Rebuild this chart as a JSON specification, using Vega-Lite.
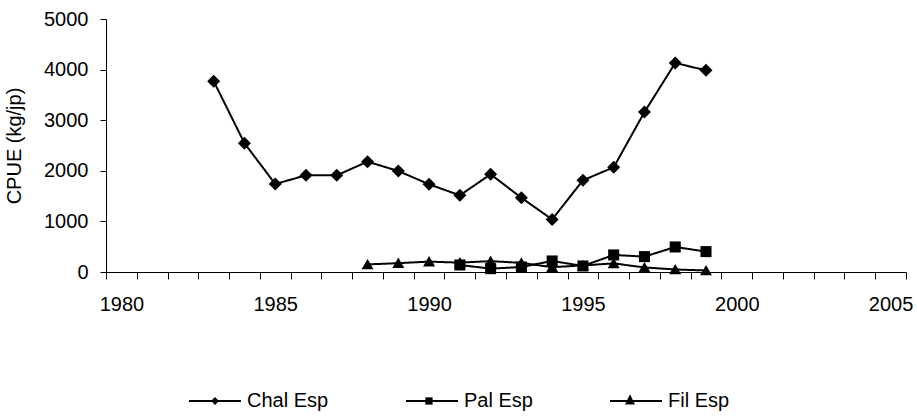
{
  "$schema": "https://vega.github.io/schema/vega-lite/v6.json",
  "width": 800,
  "height": 253,
  "autosize": "none",
  "padding": {"left": 106, "top": 19, "right": 11, "bottom": 144},
  "background": "white",
  "config": {
    "font": "Liberation Sans",
    "view": {"stroke": null},
    "axis": {"labelFont": "Liberation Sans", "titleFont": "Liberation Sans", "labelColor": "#000", "titleColor": "#000", "domainColor": "#000", "tickColor": "#000", "grid": false, "labelFontSize": 20, "titleFontSize": 20, "titleFontWeight": "normal"}
  },
  "data": {
    "values": [
      {"Year": 1983, "Series": "Chal Esp", "CPUE": 3770},
      {"Year": 1984, "Series": "Chal Esp", "CPUE": 2546},
      {"Year": 1985, "Series": "Chal Esp", "CPUE": 1739},
      {"Year": 1986, "Series": "Chal Esp", "CPUE": 1911},
      {"Year": 1987, "Series": "Chal Esp", "CPUE": 1911},
      {"Year": 1988, "Series": "Chal Esp", "CPUE": 2181},
      {"Year": 1989, "Series": "Chal Esp", "CPUE": 1996},
      {"Year": 1990, "Series": "Chal Esp", "CPUE": 1733},
      {"Year": 1991, "Series": "Chal Esp", "CPUE": 1515},
      {"Year": 1992, "Series": "Chal Esp", "CPUE": 1931},
      {"Year": 1993, "Series": "Chal Esp", "CPUE": 1467},
      {"Year": 1994, "Series": "Chal Esp", "CPUE": 1039},
      {"Year": 1995, "Series": "Chal Esp", "CPUE": 1812},
      {"Year": 1996, "Series": "Chal Esp", "CPUE": 2070},
      {"Year": 1997, "Series": "Chal Esp", "CPUE": 3160},
      {"Year": 1998, "Series": "Chal Esp", "CPUE": 4131},
      {"Year": 1999, "Series": "Chal Esp", "CPUE": 3985},
      {"Year": 1991, "Series": "Pal Esp", "CPUE": 139},
      {"Year": 1992, "Series": "Pal Esp", "CPUE": 66},
      {"Year": 1993, "Series": "Pal Esp", "CPUE": 99},
      {"Year": 1994, "Series": "Pal Esp", "CPUE": 218},
      {"Year": 1995, "Series": "Pal Esp", "CPUE": 119},
      {"Year": 1996, "Series": "Pal Esp", "CPUE": 337},
      {"Year": 1997, "Series": "Pal Esp", "CPUE": 304},
      {"Year": 1998, "Series": "Pal Esp", "CPUE": 495},
      {"Year": 1999, "Series": "Pal Esp", "CPUE": 403},
      {"Year": 1988, "Series": "Fil Esp", "CPUE": 150},
      {"Year": 1989, "Series": "Fil Esp", "CPUE": 175},
      {"Year": 1990, "Series": "Fil Esp", "CPUE": 205},
      {"Year": 1991, "Series": "Fil Esp", "CPUE": 185},
      {"Year": 1992, "Series": "Fil Esp", "CPUE": 215},
      {"Year": 1993, "Series": "Fil Esp", "CPUE": 180},
      {"Year": 1994, "Series": "Fil Esp", "CPUE": 95},
      {"Year": 1995, "Series": "Fil Esp", "CPUE": 130},
      {"Year": 1996, "Series": "Fil Esp", "CPUE": 170},
      {"Year": 1997, "Series": "Fil Esp", "CPUE": 90},
      {"Year": 1998, "Series": "Fil Esp", "CPUE": 50},
      {"Year": 1999, "Series": "Fil Esp", "CPUE": 30}
    ]
  },
  "encoding": {
    "x": {
      "field": "Year", "type": "quantitative",
      "scale": {"domain": [1979.5, 2005.5], "nice": false, "zero": false},
      "axis": {
        "title": null,
        "values": [1979.5,1980.5,1981.5,1982.5,1983.5,1984.5,1985.5,1986.5,1987.5,1988.5,1989.5,1990.5,1991.5,1992.5,1993.5,1994.5,1995.5,1996.5,1997.5,1998.5,1999.5,2000.5,2001.5,2002.5,2003.5,2004.5,2005.5],
        "labelExpr": "(datum.value + 0.5) % 5 === 0 ? format(datum.value + 0.5, 'd') : ''",
        "labelOffset": 15.385, "labelOverlap": false, "labelBound": false, "labelFlush": false,
        "tickSize": 7, "labelPadding": 15, "domainWidth": 1, "tickWidth": 1
      }
    },
    "y": {
      "field": "CPUE", "type": "quantitative",
      "scale": {"domain": [0, 5000], "nice": false},
      "axis": {
        "title": "CPUE (kg/jp)",
        "values": [0, 1000, 2000, 3000, 4000, 5000],
        "format": "d", "tickSize": 6, "labelPadding": 12,
        "titleAngle": -90, "titleBaseline": "middle", "titleAlign": "center",
        "titleX": -91.5, "titleY": 126.5
      }
    }
  },
  "layer": [
    {
      "mark": {"type": "line", "color": "#000", "strokeWidth": 2},
      "encoding": {
        "detail": {"field": "Series"},
        "strokeDash": {
          "field": "Series", "type": "nominal",
          "scale": {"domain": ["Chal Esp", "Pal Esp", "Fil Esp", " "], "range": [[1, 0], [1, 0], [1, 0], [1, 0]]},
          "legend": {
            "title": null, "orient": "none", "direction": "horizontal",
            "values": ["Chal Esp", "Pal Esp", "Fil Esp"],
            "legendX": 82, "legendY": 355, "padding": 0,
            "symbolType": "stroke", "symbolSize": 2704, "symbolStrokeWidth": 2,
            "symbolStrokeColor": "#000", "symbolOpacity": 1,
            "labelFont": "Liberation Sans", "labelFontSize": 20, "labelColor": "#000",
            "labelOffset": 5, "columnPadding": 73
          }
        }
      }
    },
    {
      "mark": {"type": "point", "filled": true, "color": "#000", "opacity": 1, "size": 169},
      "encoding": {
        "shape": {
          "field": "Series", "type": "nominal",
          "scale": {"domain": ["Chal Esp", "Pal Esp", "Fil Esp"], "range": ["diamond", "M-0.85,-0.85L0.85,-0.85L0.85,0.85L-0.85,0.85Z", "M0,-0.85L0.92,0.75L-0.92,0.75Z"]},
          "legend": null
        }
      }
    },
    {
      "transform": [{"filter": "datum.Year < 0"}],
      "mark": {"type": "point", "filled": true, "color": "#000", "opacity": 1, "size": 2704},
      "encoding": {
        "shape": {
          "field": "Series", "type": "nominal",
          "scale": {"domain": ["Chal Esp", "Pal Esp", "Fil Esp"], "range": ["M0,-0.15L0.15,0L0,0.15L-0.15,0Z", "M-0.14,-0.14L0.14,-0.14L0.14,0.14L-0.14,0.14Z", "M0,-0.26L0.19,0.13L-0.19,0.13Z"]},
          "legend": {
            "title": null, "orient": "none", "direction": "horizontal",
            "legendX": 82, "legendY": 355, "padding": 0,
            "symbolSize": 2704, "symbolStrokeWidth": 2,
            "symbolFillColor": "#000", "symbolOpacity": 1,
            "labelFont": "Liberation Sans", "labelFontSize": 20, "labelColor": "#000", "labelOpacity": 0,
            "labelOffset": 5, "columnPadding": 73
          }
        }
      }
    }
  ],
  "resolve": {"scale": {"shape": "independent"}}
}
